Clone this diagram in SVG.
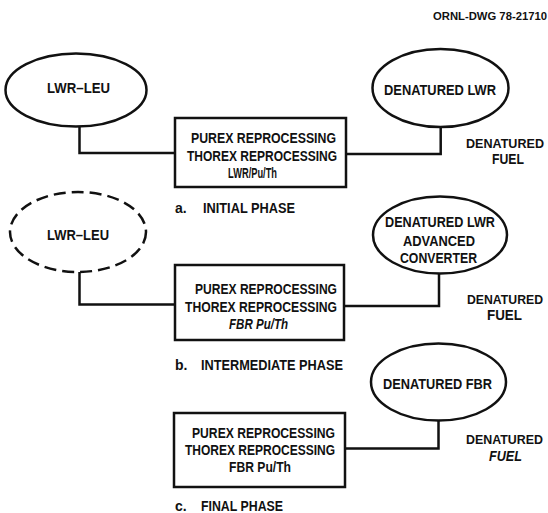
<svg xmlns="http://www.w3.org/2000/svg" width="548" height="513" viewBox="0 0 548 513">
<style>
.t{font-family:"Liberation Sans",Arial,sans-serif;font-weight:bold;font-size:14px;fill:#111}
.n{font-size:12.8px}
.i{font-style:italic}
.s{fill:none;stroke:#111;stroke-width:2.5}
.d{stroke-dasharray:12 6}
</style>
<rect width="548" height="513" fill="#fff"/>
<text class="t" x="433" y="19.5" style="font-size:10.5px" textLength="114" lengthAdjust="spacingAndGlyphs">ORNL-DWG 78-21710</text>
<g id="connectors" class="s">
<path d="M79.5 126.5 V153 H175"/>
<path d="M440.7 127 V154 H346"/>
<path d="M79.5 272 V304.5 H175"/>
<path d="M439 273.5 V306 H344"/>
<path d="M438.5 420.5 V448.5 H345"/>
</g>
<g id="a-lwr-leu">
<ellipse class="s" cx="76" cy="90" rx="70.5" ry="36.5"/>
<text class="t" x="47" y="93" textLength="63" lengthAdjust="spacingAndGlyphs">LWR–LEU</text>
</g>
<g id="a-denatured-lwr">
<ellipse class="s" cx="440.5" cy="88" rx="68" ry="39"/>
<text class="t" x="384" y="95" textLength="112" lengthAdjust="spacingAndGlyphs">DENATURED LWR</text>
</g>
<g id="a-reprocessing">
<rect class="s" x="175" y="118" width="171" height="69"/>
<text class="t" x="191" y="143" textLength="145" lengthAdjust="spacingAndGlyphs">PUREX REPROCESSING</text>
<text class="t" x="187" y="161" textLength="150" lengthAdjust="spacingAndGlyphs">THOREX REPROCESSING</text>
<text class="t" x="228" y="178" textLength="49" lengthAdjust="spacingAndGlyphs">LWR/Pu/Th</text>
</g>
<g id="a-fuel">
<text class="t n" x="466" y="148" textLength="78" lengthAdjust="spacingAndGlyphs">DENATURED</text>
<text class="t" x="492" y="164" textLength="32" lengthAdjust="spacingAndGlyphs">FUEL</text>
</g>
<g id="a-caption">
<text class="t" x="175" y="213">a.</text>
<text class="t" x="203" y="213" textLength="92" lengthAdjust="spacingAndGlyphs">INITIAL PHASE</text>
</g>
<g id="b-lwr-leu">
<ellipse class="s d" cx="78" cy="232" rx="68" ry="40"/>
<text class="t" x="47" y="240" textLength="62" lengthAdjust="spacingAndGlyphs">LWR–LEU</text>
</g>
<g id="b-denatured-lwr-ac">
<ellipse class="s" cx="440" cy="235" rx="67" ry="38.5"/>
<text class="t" x="385" y="227" textLength="110" lengthAdjust="spacingAndGlyphs">DENATURED LWR</text>
<text class="t" x="403" y="246" textLength="72" lengthAdjust="spacingAndGlyphs">ADVANCED</text>
<text class="t" x="400" y="263" textLength="77" lengthAdjust="spacingAndGlyphs">CONVERTER</text>
</g>
<g id="b-reprocessing">
<rect class="s" x="175" y="265" width="169" height="75"/>
<text class="t" x="195" y="294" textLength="142" lengthAdjust="spacingAndGlyphs">PUREX REPROCESSING</text>
<text class="t" x="185" y="312" textLength="152" lengthAdjust="spacingAndGlyphs">THOREX REPROCESSING</text>
<text class="t i" x="229" y="329" textLength="59" lengthAdjust="spacingAndGlyphs">FBR Pu/Th</text>
</g>
<g id="b-fuel">
<text class="t n" x="467" y="304" textLength="76" lengthAdjust="spacingAndGlyphs">DENATURED</text>
<text class="t" x="487" y="320" textLength="35" lengthAdjust="spacingAndGlyphs">FUEL</text>
</g>
<g id="b-caption">
<text class="t" x="175" y="370">b.</text>
<text class="t" x="201" y="370" textLength="142" lengthAdjust="spacingAndGlyphs">INTERMEDIATE PHASE</text>
</g>
<g id="c-denatured-fbr">
<ellipse class="s" cx="438.5" cy="382" rx="67.5" ry="38.5"/>
<text class="t" x="383" y="389" textLength="109" lengthAdjust="spacingAndGlyphs">DENATURED FBR</text>
</g>
<g id="c-reprocessing">
<rect class="s" x="174" y="413" width="171" height="74"/>
<text class="t" x="192" y="438" textLength="143" lengthAdjust="spacingAndGlyphs">PUREX REPROCESSING</text>
<text class="t" x="185" y="455" textLength="150" lengthAdjust="spacingAndGlyphs">THOREX REPROCESSING</text>
<text class="t" x="229" y="472" textLength="62" lengthAdjust="spacingAndGlyphs">FBR Pu/Th</text>
</g>
<g id="c-fuel">
<text class="t n" x="466" y="444" textLength="77" lengthAdjust="spacingAndGlyphs">DENATURED</text>
<text class="t i" x="489" y="461" textLength="33" lengthAdjust="spacingAndGlyphs">FUEL</text>
</g>
<g id="c-caption">
<text class="t" x="175" y="511">c.</text>
<text class="t" x="201" y="511" textLength="82" lengthAdjust="spacingAndGlyphs">FINAL PHASE</text>
</g>
</svg>
